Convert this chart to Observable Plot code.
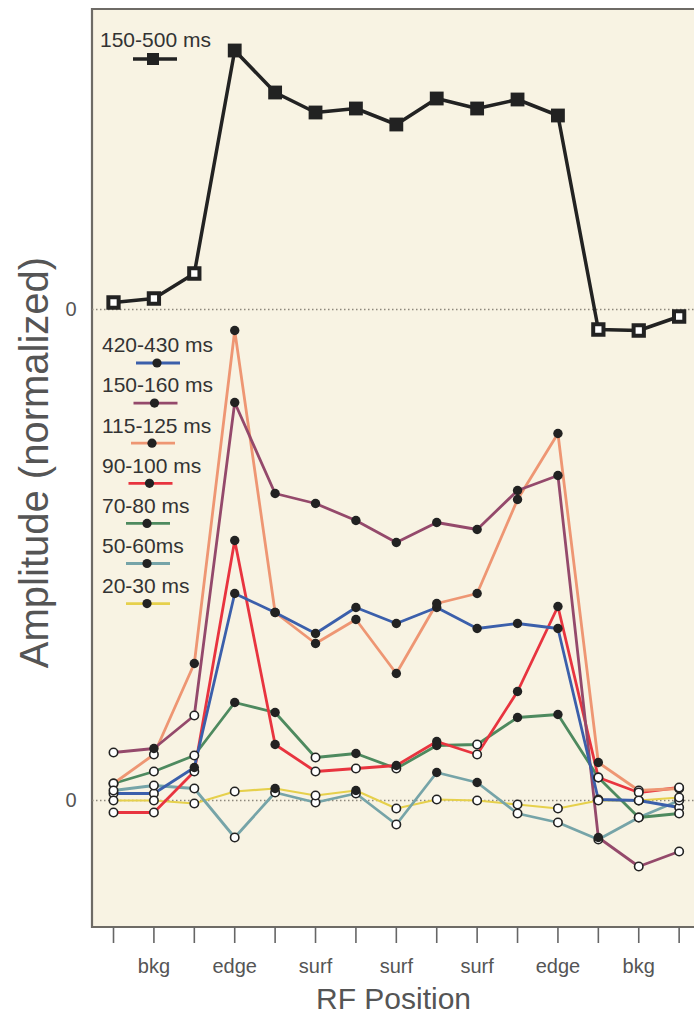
<!DOCTYPE html>
<html><head><meta charset="utf-8">
<script src="https://cdn.jsdelivr.net/npm/d3@7"></script>
<script src="https://cdn.jsdelivr.net/npm/@observablehq/plot@0.6"></script>
<style>
body{margin:0;background:#fff;}
#chart svg{display:block;}
</style>
</head><body><div id="chart"></div>
<script>
// ---- data ----
const tickLabels = ["", "bkg", "", "edge", "", "surf", "", "surf", "", "surf", "", "edge", "", "bkg", ""];
const yLabel = "Amplitude (normalized)";
const xLabel = "RF Position";

// top panel (150-500 ms), normalized units; filled = significant
const topLabel = "150-500 ms";
const topValues = [0.07, 0.11, 0.36, 2.59, 2.17, 1.97, 2.01, 1.85, 2.11, 2.01, 2.10, 1.94, -0.20, -0.21, -0.07];
const topFilled = [0, 0, 0, 1, 1, 1, 1, 1, 1, 1, 1, 1, 0, 0, 0];
const topZero = 4.91; // baseline of the upper panel on the shared axis

// bottom panel series
const seriesLabels = ["420-430 ms", "150-160 ms", "115-125 ms", "90-100 ms", "70-80 ms", "50-60ms", "20-30 ms"];
const seriesColors = ["#3b5fab", "#94496b", "#ee9673", "#e8343f", "#4e8a5f", "#76a4a8", "#e6d04c"];
const v420 = [0.07, 0.07, 0.33, 2.07, 1.88, 1.67, 1.93, 1.77, 1.93, 1.72, 1.77, 1.72, 0.01, 0.00, -0.07];
const f420 = [0, 0, 1, 1, 1, 1, 1, 1, 1, 1, 1, 1, 0, 0, 0];
const v150 = [0.48, 0.52, 0.85, 3.98, 3.07, 2.97, 2.80, 2.58, 2.78, 2.71, 3.10, 3.25, -0.37, -0.66, -0.51];
const f150 = [0, 1, 0, 1, 1, 1, 1, 1, 1, 1, 1, 1, 1, 0, 0];
const v115 = [0.17, 0.46, 1.37, 4.70, 1.88, 1.57, 1.81, 1.27, 1.97, 2.07, 3.01, 3.67, 0.38, 0.10, 0.12];
const f115 = [0, 0, 1, 1, 1, 1, 1, 1, 1, 1, 1, 1, 1, 0, 0];
const v90 = [-0.12, -0.12, 0.29, 2.60, 0.56, 0.29, 0.32, 0.35, 0.59, 0.46, 1.09, 1.94, 0.23, 0.08, 0.13];
const f90 = [0, 0, 0, 1, 1, 0, 0, 1, 1, 0, 1, 1, 0, 0, 0];
const v70 = [0.17, 0.29, 0.45, 0.98, 0.88, 0.43, 0.47, 0.32, 0.55, 0.56, 0.83, 0.86, 0.23, -0.17, -0.13];
const f70 = [0, 0, 0, 1, 1, 0, 1, 0, 1, 0, 1, 1, 0, 0, 0];
const v50 = [0.10, 0.15, 0.12, -0.37, 0.08, -0.02, 0.07, -0.24, 0.28, 0.18, -0.13, -0.22, -0.39, -0.17, 0.00];
const f50 = [0, 0, 0, 0, 0, 0, 0, 0, 1, 1, 0, 0, 0, 0, 0];
const v20 = [0.00, 0.00, -0.03, 0.09, 0.12, 0.05, 0.10, -0.08, 0.01, 0.00, -0.04, -0.08, 0.00, 0.00, 0.03];
const f20 = [0, 0, 0, 0, 1, 0, 1, 0, 0, 0, 0, 0, 0, 0, 0];

const seriesValues = [v420, v150, v115, v90, v70, v50, v20];
const seriesFilled = [f420, f150, f115, f90, f70, f50, f20];

// ---- tables ----
const topRows = topValues.map((v, i) => ({i, v: topZero + v, filled: !!topFilled[i]}));
const bottomRows = seriesValues.map((vals, s) =>
  vals.map((v, i) => ({s, i, v, filled: !!seriesFilled[s][i]})));

const FONT = "'Liberation Sans', Arial, Helvetica, sans-serif";

// panel border (left, top, bottom) – right side runs off the figure
function border(index, scales, values, dims) {
  const {width, height, marginLeft, marginTop, marginBottom} = dims;
  const g = d3.create("svg:g");
  g.append("path")
    .attr("d", `M${width},${marginTop}H${marginLeft}V${height - marginBottom}H${width}`)
    .attr("fill", "none").attr("stroke", "#6e6b66").attr("stroke-width", 2.2);
  return g.node();
}

// legends drawn inside the panel
function legends(index, scales, values, dims) {
  const {marginLeft, marginTop} = dims;
  const g = d3.create("svg:g").attr("font-family", FONT).attr("text-anchor", "start");
  const tx = marginLeft + 10;
  // top legend
  g.append("text").attr("x", tx - 2).attr("y", marginTop + 31).attr("dy", "0.35em")
    .attr("font-size", 21).attr("fill", "#333").attr("text-anchor", "start").text(topLabel);
  g.append("line").attr("x1", marginLeft + 41).attr("x2", marginLeft + 85)
    .attr("y1", marginTop + 50).attr("y2", marginTop + 50)
    .attr("stroke", "#222").attr("stroke-width", 3.5);
  g.append("rect").attr("x", marginLeft + 55).attr("y", marginTop + 44).attr("width", 12).attr("height", 12)
    .attr("fill", "#222");
  // bottom legends
  seriesLabels.forEach((lab, k) => {
    const y = marginTop + 336 + k * 40.1;
    g.append("text").attr("x", tx).attr("y", y).attr("dy", "0.35em")
      .attr("font-size", 21).attr("fill", "#333").attr("text-anchor", "start").text(lab);
    const ly = y + 18;
    const lx = marginLeft + 44 - Math.min(k, 4) * 2.5;
    g.append("line").attr("x1", lx).attr("x2", lx + 44).attr("y1", ly).attr("y2", ly)
      .attr("stroke", seriesColors[k]).attr("stroke-width", 2.8);
    g.append("circle").attr("cx", lx + 21).attr("cy", ly).attr("r", 4.6).attr("fill", "#222");
  });
  return g.node();
}

const lineMarks = [];
for (let s = seriesLabels.length - 1; s >= 0; s--) {
  lineMarks.push(Plot.line(bottomRows[s], {
    x: "i", y: "v", stroke: seriesColors[s], strokeWidth: s === 6 ? 2.2 : 2.8,
    strokeLinejoin: "round"
  }));
}
const allBottom = bottomRows.flat();

const chart = Plot.plot({
  width: 694,
  height: 1014,
  marginLeft: 92,
  marginRight: 0,
  marginTop: 9,
  marginBottom: 87,
  style: {fontFamily: FONT, background: "transparent", overflow: "visible"},
  x: {domain: [-0.52, 14.38]},
  y: {domain: [-1.27, 7.91]},
  marks: [
    Plot.frame({fill: "#f8f3e3", stroke: null}),
    border,
    Plot.ruleY([0, topZero], {stroke: "#8c877c", strokeDasharray: "1.5,2.5", strokeWidth: 1.4}),
    Plot.axisY({ticks: [0, topZero], tickFormat: () => "0", tickSize: 0, tickPadding: 16,
      fontSize: 20, fill: "#555", label: null}),
    Plot.axisX({ticks: d3.range(15), tickFormat: i => tickLabels[i], tickSize: 16, tickPadding: 15,
      fontSize: 20, fill: "#555", stroke: "#666", strokeWidth: 1.6, label: null}),
    ...lineMarks,
    Plot.dot(allBottom.filter(d => !d.filled), {x: "i", y: "v", r: 4.2, fill: "#fff", stroke: "#222", strokeWidth: 1.6}),
    Plot.dot(allBottom.filter(d => d.filled), {x: "i", y: "v", r: 4.7, fill: "#222", stroke: "none"}),
    Plot.line(topRows, {x: "i", y: "v", stroke: "#222", strokeWidth: 3.5, strokeLinejoin: "round"}),
    Plot.dot(topRows.filter(d => d.filled), {x: "i", y: "v", symbol: "square", r: 7.8, fill: "#222"}),
    Plot.dot(topRows.filter(d => !d.filled), {x: "i", y: "v", symbol: "square", r: 5.8, fill: "#fff", stroke: "#222", strokeWidth: 4}),
    legends,
    Plot.text([yLabel], {text: d => d, frameAnchor: "left", textAnchor: "middle", lineAnchor: "middle",
      rotate: -90, dx: -57, dy: -6, fontSize: 40, fill: "#555"}),
    Plot.text([xLabel], {text: d => d, frameAnchor: "bottom", textAnchor: "middle", lineAnchor: "middle",
      dy: 72, fontSize: 30, fill: "#555"})
  ]
});
document.getElementById("chart").appendChild(chart);
</script>
</body></html>
